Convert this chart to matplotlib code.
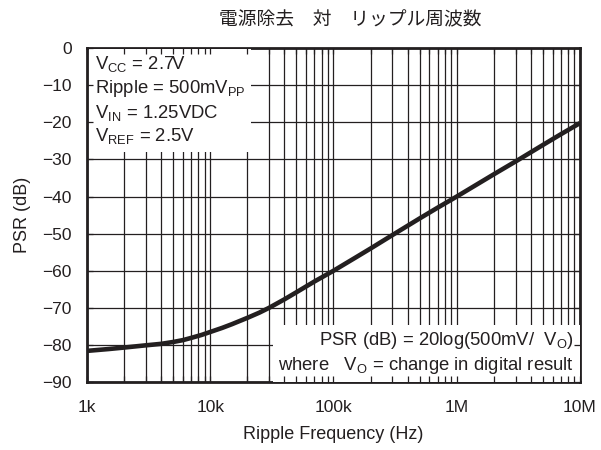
import matplotlib
matplotlib.use("Agg")
import matplotlib.pyplot as plt
import numpy as np
from matplotlib.ticker import LogLocator, NullFormatter, FixedLocator

plt.rcParams['font.family'] = ['Liberation Sans', 'Noto Sans CJK JP', 'DejaVu Sans']

# Data
freq_hz = [1e3, 1.5e3, 2e3, 3e3, 4e3, 5e3, 6e3, 7e3, 8.5e3, 1e4, 1.25e4, 1.5e4,
           2e4, 2.5e4, 3e4, 4e4, 5e4, 7e4, 1e5, 1.5e5, 2e5, 3e5, 5e5, 7e5,
           1e6, 2e6, 3.2e6, 5e6, 7e6, 1e7]
psr_db = [-81.6, -81.1, -80.7, -80.1, -79.7, -79.2, -78.7, -78.1, -77.3, -76.5,
          -75.4, -74.4, -72.7, -71.3, -70.0, -67.7, -65.8, -62.9, -60.0, -56.5,
          -54.0, -50.4, -45.9, -43.0, -40.0, -34.0, -30.0, -26.1, -23.2, -20.2]

x_ticks = [1e3, 1e4, 1e5, 1e6, 1e7]
x_labels = ["1k", "10k", "100k", "1M", "10M"]
y_ticks = list(range(-90, 1, 10))

ink = "#231f20"
pos = [0.1448, 0.151, 0.8202, 0.742]

fig = plt.figure(figsize=(6.01, 4.5), dpi=100)
ax = fig.add_axes(pos)

ax.semilogx(freq_hz, psr_db, color=ink, lw=3.3, zorder=3,
            solid_capstyle="butt", solid_joinstyle="round")
ax.set_xlim(1e3, 1e7)
ax.set_ylim(-90, 0)

ax.xaxis.set_major_locator(FixedLocator(x_ticks))
ax.set_xticklabels(x_labels)
ax.xaxis.set_minor_locator(LogLocator(base=10, subs=np.arange(2, 10)))
ax.xaxis.set_minor_formatter(NullFormatter())
ax.set_yticks(y_ticks)
ax.set_yticklabels([str(v).replace("-", "\u2212") for v in y_ticks])

ax.grid(True, which="major", color=ink, lw=0.9)
ax.grid(True, which="minor", axis="x", color=ink, lw=0.9)
ax.tick_params(which="both", length=0, labelsize=12.5, colors=ink)
ax.tick_params(axis="x", pad=13)
ax.tick_params(axis="y", pad=11)
for s in ax.spines.values():
    s.set_linewidth(2)
    s.set_color(ink)

ax.set_xlabel("Ripple Frequency (Hz)", fontsize=13, color=ink, labelpad=8)
ax.set_ylabel("PSR (dB)", fontsize=13, color=ink, labelpad=8)
fig.text(0.582, 0.956, "電源除去　対　リップル周波数", ha="center", va="center",
         fontsize=13.5, color=ink, family=["Noto Sans CJK JP", "DejaVu Sans"])

cond = ("$\\mathregular{V_{CC}}$ = 2.7V\n"
        "Ripple = 500m$\\mathregular{V_{PP}}$\n"
        "$\\mathregular{V_{IN}}$ = 1.25VDC\n"
        "$\\mathregular{V_{REF}}$ = 2.5V")
ax.text(0.016, 0.982, cond, transform=ax.transAxes, ha="left", va="top",
        fontsize=13.3, color=ink, linespacing=1.25, zorder=4,
        bbox=dict(facecolor="white", edgecolor="none", pad=4))

formula = ("PSR (dB) = 20log(500mV/  $\\mathregular{V_O}$)\n"
           "where   $\\mathregular{V_O}$ = change in digital result")
ax.text(0.988, 0.018, formula, transform=ax.transAxes, ha="right", va="bottom",
        fontsize=13.3, color=ink, linespacing=1.25, zorder=4,
        bbox=dict(facecolor="white", edgecolor="none", pad=4))

# overlay axes: inward tick marks drawn above the white text boxes
tk = fig.add_axes(pos, sharex=ax, sharey=ax)
tk.patch.set_visible(False)
for s in tk.spines.values():
    s.set_visible(False)
tk.tick_params(which="both", direction="in", length=4, width=0.9, color=ink,
               top=True, bottom=True, left=True, right=True,
               labelbottom=False, labelleft=False)

fig.savefig("out.png", dpi=100)
